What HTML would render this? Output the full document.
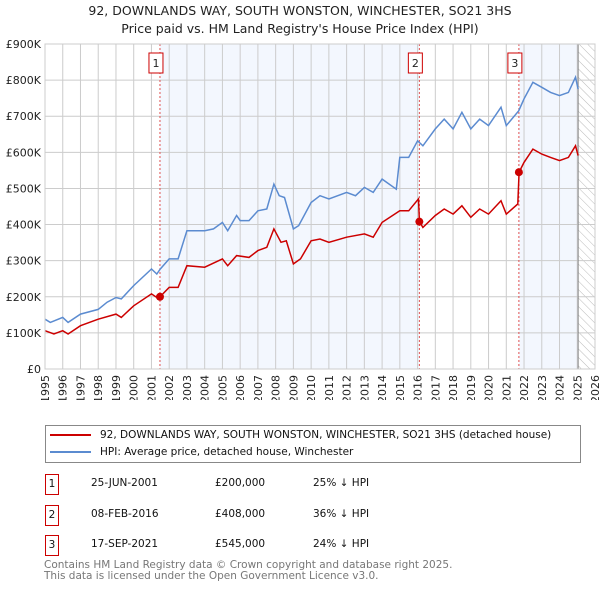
<!DOCTYPE html>
<html><head><meta charset="utf-8"><style>
body{margin:0;width:600px;height:590px;background:#fff;font-family:"DejaVu Sans","Liberation Sans",sans-serif;overflow:hidden;position:relative}
.t{position:absolute;white-space:nowrap}
</style></head><body>
<div class="t" style="left:0;width:600px;text-align:center;top:2px;font-size:12.5px;line-height:18px;color:#222">92, DOWNLANDS WAY, SOUTH WONSTON, WINCHESTER, SO21 3HS<br>Price paid vs. HM Land Registry's House Price Index (HPI)</div>
<svg id="c" width="600" height="400" style="position:absolute;left:0;top:0;font-family:'DejaVu Sans',sans-serif"></svg>
<div style="position:absolute;left:45px;top:425px;width:534px;height:36px;border:1px solid #888;font-size:10.5px;color:#111">
<div style="position:absolute;left:4px;top:3px"><span style="display:inline-block;width:41px;height:2px;background:#cc0000;vertical-align:middle;margin-right:9px"></span>92, DOWNLANDS WAY, SOUTH WONSTON, WINCHESTER, SO21 3HS (detached house)</div>
<div style="position:absolute;left:4px;top:20px"><span style="display:inline-block;width:41px;height:2px;background:#5b8bd0;vertical-align:middle;margin-right:9px"></span>HPI: Average price, detached house, Winchester</div>
</div>
<div id="tbl"></div>
<div class="t" style="left:44px;top:560px;font-size:10.5px;line-height:11px;color:#777">Contains HM Land Registry data © Crown copyright and database right 2025.<br>This data is licensed under the Open Government Licence v3.0.</div>
<script>
const hpiYears=[1995,1995.3,1996,1996.3,1997,1998,1998.5,1999,1999.3,2000,2001,2001.3,2001.5,2002,2002.5,2003,2004,2004.5,2005,2005.3,2005.8,2006,2006.5,2007,2007.5,2007.9,2008.2,2008.5,2009,2009.3,2010,2010.5,2011,2012,2012.5,2013,2013.5,2014,2014.8,2015,2015.5,2016,2016.3,2017,2017.5,2018,2018.5,2019,2019.5,2020,2020.7,2021,2021.7,2022,2022.5,2023,2023.5,2024,2024.5,2024.9,2025.05];
const hpiValues=[138,129,143,129,152,165,185,198,194,231,277,263,277,305,305,383,383,388,406,383,425,411,411,438,443,512,480,475,388,397,461,480,471,489,480,503,489,526,498,586,586,632,618,665,692,665,711,665,692,674,725,674,715,748,794,780,766,757,766,808,775];
const priceYears=[1995,1995.5,1996,1996.3,1997,1998,1999,1999.3,2000,2001,2001.3,2001.48,2002,2002.5,2003,2004,2005,2005.3,2005.8,2006.5,2007,2007.5,2007.9,2008.3,2008.6,2009,2009.4,2010,2010.5,2011,2012,2013,2013.5,2014,2015,2015.5,2016.05,2016.1,2016.3,2017,2017.5,2018,2018.5,2019,2019.5,2020,2020.7,2021,2021.65,2021.72,2022,2022.5,2023,2023.5,2024,2024.5,2024.9,2025.05];
const priceValues=[106,97,106,97,120,138,152,143,175,208,198,200,226,226,286,282,305,286,314,309,328,337,388,351,355,291,305,355,360,351,365,374,365,406,438,438,471,408,392,425,443,429,452,420,443,429,466,429,457,545,572,609,595,586,577,586,618,591];
const saleYears=[2001.48,2016.1,2021.71];
const saleValues=[200,408,545];
const saleLabels=["1","2","3"];
const saleDates=["25-JUN-2001","08-FEB-2016","17-SEP-2021"];
const salePrices=["£200,000","£408,000","£545,000"];
const saleDiffs=["25% ↓ HPI","36% ↓ HPI","24% ↓ HPI"];
const yTicks=[0,100,200,300,400,500,600,700,800,900];
const yTickLabels=["£0","£100K","£200K","£300K","£400K","£500K","£600K","£700K","£800K","£900K"];
const xTicks=[];for(let y=1995;y<=2026;y++)xTicks.push(y);
const X0=45,X1=595,Y0=369,Y1=44;
const x=v=>X0+(v-1995)*(X1-X0)/31;
const y=v=>Y0-v*(Y0-Y1)/900;
const svg=document.getElementById('c');const NS='http://www.w3.org/2000/svg';
function mk(t,a,p){const e=document.createElementNS(NS,t);for(const k in a)e.setAttribute(k,a[k]);(p||svg).appendChild(e);return e;}
const defs=mk('defs',{});const pat=mk('pattern',{id:'h',width:6,height:6,patternUnits:'userSpaceOnUse',patternTransform:'rotate(-45)'},defs);mk('line',{x1:0,y1:0,x2:0,y2:6,stroke:'#bbb','stroke-width':1},pat);
let e;
e=mk('rect',{x:x(saleYears[0]),y:Y1,width:x(saleYears[1])-x(saleYears[0]),height:Y0-Y1,fill:'#eef3fd',opacity:0.7});

e=mk('rect',{x:x(saleYears[2]),y:Y1,width:x(2025.05)-x(saleYears[2]),height:Y0-Y1,fill:'#eef3fd',opacity:0.7});

e=mk('rect',{x:x(2025.05),y:Y1,width:X1-x(2025.05),height:Y0-Y1,fill:'url(#h)'});

xTicks.forEach(t=>{mk('line',{x1:x(t),x2:x(t),y1:Y1,y2:Y0,stroke:'#ccc','stroke-width':1});
e=mk('text',{x:0,y:0,transform:`translate(${x(t)+4},${Y0+6}) rotate(-90)`,'text-anchor':'end','font-size':11,fill:'#222'});e.textContent=t;
});
yTicks.forEach((t,i)=>{mk('line',{x1:X0,x2:X1,y1:y(t),y2:y(t),stroke:'#ccc','stroke-width':1});
e=mk('text',{x:X0-4,y:y(t)+4,'text-anchor':'end','font-size':11,fill:'#222'});e.textContent=yTickLabels[i];
});
mk('line',{x1:x(2025.05),x2:x(2025.05),y1:Y1,y2:Y0,stroke:'#888','stroke-width':1});
saleYears.forEach((s,i)=>{mk('line',{x1:x(s),x2:x(s),y1:Y1,y2:Y0,stroke:'#e05050','stroke-width':1,'stroke-dasharray':'2,2'});
const g=mk('g',{});
mk('rect',{x:x(s)-11,y:53,width:14,height:20,fill:'#fff',stroke:'#c00'},g);
const tt=mk('text',{x:x(s)-4,y:67,'text-anchor':'middle','font-size':11,fill:'#222'},g);tt.textContent=saleLabels[i];});
function line(xs,vs,c,n){const p=mk('path',{d:xs.map((v,i)=>(i?'L':'M')+x(v).toFixed(1)+','+y(vs[i]).toFixed(1)).join(''),fill:'none',stroke:c,'stroke-width':1.5});
}
line(hpiYears,hpiValues,'#5b8bd0','hpi-line');
line(priceYears,priceValues,'#cc0000','price-line');
saleYears.forEach((s,i)=>{e=mk('circle',{cx:x(s),cy:y(saleValues[i]),r:4,fill:'#cc0000'});
});
mk('rect',{x:X0,y:Y1,width:X1-X0,height:Y0-Y1,fill:'none',stroke:'#ccc'});
const tbl=document.getElementById('tbl');const rowY=[484,515,545];
saleLabels.forEach((l,i)=>{const r=document.createElement('div');


r.style.cssText=`position:absolute;left:0;top:${rowY[i]-10}px;height:21px;width:600px;font-size:10.5px;color:#111`;
r.innerHTML=`<span style="position:absolute;left:45px;top:0;width:12px;height:19px;border:1px solid #c00;text-align:center;line-height:18px">${l}</span><span class="t" style="left:91px;top:3px">${saleDates[i]}</span><span class="t" style="left:215px;top:3px">${salePrices[i]}</span><span class="t" style="left:313px;top:3px">${saleDiffs[i]}</span>`;
tbl.appendChild(r);});
</script>
</body></html>
